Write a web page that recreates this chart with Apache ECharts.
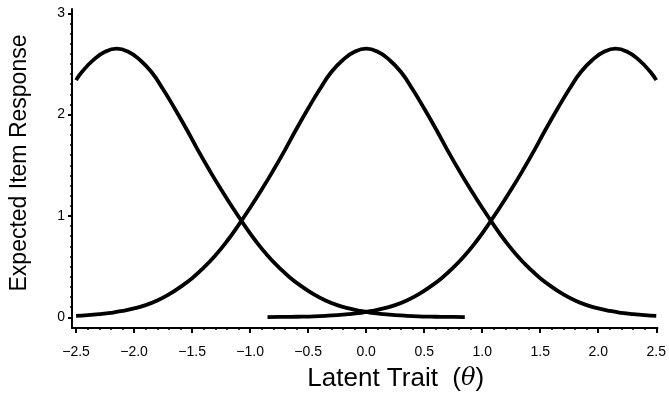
<!DOCTYPE html>
<html>
<head>
<meta charset="utf-8">
<script src="https://cdn.jsdelivr.net/npm/echarts@6/dist/echarts.min.js"></script>
<style>
  html, body { margin: 0; padding: 0; background: #fff; }
  #chart { width: 669px; height: 419px; }
</style>
</head>
<body>
<div id="chart"></div>
<script>
// 三条期望项目反应曲线 (theta, 期望反应)
const thetaLeft = [-2.5, -2.45, -2.35, -2.25, -2.15, -2.05, -1.95, -1.85, -1.75, -1.65, -1.55, -1.45,
  -1.35, -1.25, -1.15, -1.05, -0.95, -0.85, -0.75, -0.65, -0.55, -0.45, -0.35, -0.25, -0.15, -0.05,
  0.05, 0.15, 0.25, 0.35, 0.45, 0.55, 0.65, 0.75, 0.85]
const itemLeft = [2.34, 2.42, 2.54, 2.62, 2.65, 2.62, 2.54, 2.42, 2.25, 2.06, 1.86, 1.65,
  1.45, 1.26, 1.08, 0.91, 0.75, 0.61, 0.49, 0.385, 0.30, 0.225, 0.165, 0.12, 0.087, 0.062,
  0.044, 0.031, 0.021, 0.014, 0.009, 0.006, 0.004, 0.003, 0.002]

const thetaMid = [-2.5, -2.4, -2.3, -2.2, -2.1, -2.0, -1.9, -1.8, -1.7, -1.6, -1.5, -1.4, -1.3,
  -1.2, -1.1, -1.0, -0.9, -0.8, -0.7, -0.6, -0.5, -0.4, -0.3, -0.2, -0.1, 0.0,
  0.1, 0.2, 0.3, 0.4, 0.5, 0.6, 0.7, 0.8, 0.9, 1.0, 1.1, 1.2, 1.3, 1.4, 1.5, 1.6, 1.7,
  1.8, 1.9, 2.0, 2.1, 2.2, 2.3, 2.4, 2.5]
const itemMid = [0.014, 0.021, 0.031, 0.044, 0.062, 0.087, 0.12, 0.165, 0.225, 0.30, 0.385, 0.49, 0.61,
  0.75, 0.91, 1.08, 1.26, 1.45, 1.65, 1.86, 2.06, 2.25, 2.42, 2.54, 2.62, 2.65,
  2.62, 2.54, 2.42, 2.25, 2.06, 1.86, 1.65, 1.45, 1.26, 1.08, 0.91, 0.75, 0.61, 0.49, 0.385, 0.30, 0.225,
  0.165, 0.12, 0.087, 0.062, 0.044, 0.031, 0.021, 0.014]

const thetaRight = [-0.85, -0.75, -0.65, -0.55, -0.45, -0.35, -0.25, -0.15, -0.05, 0.05, 0.15, 0.25,
  0.35, 0.45, 0.55, 0.65, 0.75, 0.85, 0.95, 1.05, 1.15, 1.25, 1.35, 1.45, 1.55, 1.65,
  1.75, 1.85, 1.95, 2.05, 2.15, 2.25, 2.35, 2.45, 2.5]
const itemRight = [0.002, 0.003, 0.004, 0.006, 0.009, 0.014, 0.021, 0.031, 0.044, 0.062, 0.087, 0.12,
  0.165, 0.225, 0.30, 0.385, 0.49, 0.61, 0.75, 0.91, 1.08, 1.26, 1.45, 1.65, 1.86, 2.06,
  2.25, 2.42, 2.54, 2.62, 2.65, 2.62, 2.54, 2.42, 2.34]

// 刻度
const xTicks = [-2.5, -2.0, -1.5, -1.0, -0.5, 0.0, 0.5, 1.0, 1.5, 2.0, 2.5]
const yTicks = [0, 1, 2, 3]

const xMinor = []
for (let i = -25; i <= 25; i++) if (i % 5 !== 0) xMinor.push(i / 10)
const yMinor = []
for (let i = 0; i <= 30; i++) if (i % 10 !== 0) yMinor.push(i / 10)

const zip = (xs, ys) => xs.map((x, i) => [x, ys[i]])

const FONT = 'Liberation Sans, Arial, Helvetica, sans-serif'
const X_MIN = -2.535, X_MAX = 2.51
const Y_MIN = -0.106, Y_MAX = 3.042

const fmtX = v => {
    const s = Math.abs(v).toFixed(1)
    return v < -1e-9 ? '\u2212' + s : s
}

const lineSeries = (xs, ys) => ({
    type: 'line',
    data: zip(xs, ys),
    smooth: true,
    showSymbol: false,
    symbol: 'none',
    xAxisIndex: 0,
    yAxisIndex: 0,
    lineStyle: { color: '#000', width: 3.8 },
    emphasis: { disabled: true },
    silent: true
})

const chart = echarts.init(document.getElementById('chart'))
chart.setOption({
    animation: false,
    backgroundColor: '#fff',
    grid: { left: 72, right: 10, top: 9, bottom: 91 },
    xAxis: [
        {
            type: 'value',
            min: X_MIN,
            max: X_MAX,
            position: 'bottom',
            name: '{a|Latent Trait  (}{b|θ}{a|)}',
            nameLocation: 'middle',
            nameGap: 38,
            nameTextStyle: {
                padding: [0, 0, 0, 62],
                rich: {
                    a: { fontFamily: FONT, fontSize: 26, color: '#000' },
                    b: { fontFamily: 'DejaVu Serif, serif', fontStyle: 'italic', fontSize: 24, color: '#000' }
                }
            },
            axisLine: { show: true, onZero: false, lineStyle: { color: '#000', width: 2 } },
            axisTick: { show: true, customValues: xTicks, length: 5, lineStyle: { color: '#000', width: 2 } },
            axisLabel: {
                customValues: xTicks,
                formatter: fmtX,
                margin: 17,
                fontFamily: FONT,
                fontSize: 14,
                color: '#000'
            },
            splitLine: { show: false }
        },
        {
            type: 'value',
            min: X_MIN,
            max: X_MAX,
            position: 'bottom',
            offset: 0,
            axisLine: { show: false, onZero: false },
            axisTick: { show: true, customValues: xMinor, length: 2, lineStyle: { color: '#000', width: 1.5 } },
            axisLabel: { show: false },
            splitLine: { show: false }
        }
    ],
    yAxis: [
        {
            type: 'value',
            min: Y_MIN,
            max: Y_MAX,
            position: 'left',
            name: 'Expected Item Response',
            nameLocation: 'middle',
            nameGap: 41,
            nameTextStyle: { fontFamily: FONT, fontSize: 23, color: '#000', padding: [0, 0, 0, 11] },
            axisLine: { show: true, onZero: false, lineStyle: { color: '#000', width: 2 } },
            axisTick: { show: true, customValues: yTicks, length: 4, lineStyle: { color: '#000', width: 2 } },
            axisLabel: {
                customValues: yTicks,
                margin: 7,
                fontFamily: FONT,
                fontSize: 14,
                color: '#000'
            },
            splitLine: { show: false }
        },
        {
            type: 'value',
            min: Y_MIN,
            max: Y_MAX,
            position: 'left',
            offset: 0,
            axisLine: { show: false, onZero: false },
            axisTick: { show: true, customValues: yMinor, length: 2, lineStyle: { color: '#000', width: 1.5 } },
            axisLabel: { show: false },
            splitLine: { show: false }
        }
    ],
    series: [
        lineSeries(thetaLeft, itemLeft),
        lineSeries(thetaMid, itemMid),
        lineSeries(thetaRight, itemRight)
    ]
})

window.addEventListener('resize', () => chart.resize())
</script>
</body>
</html>
